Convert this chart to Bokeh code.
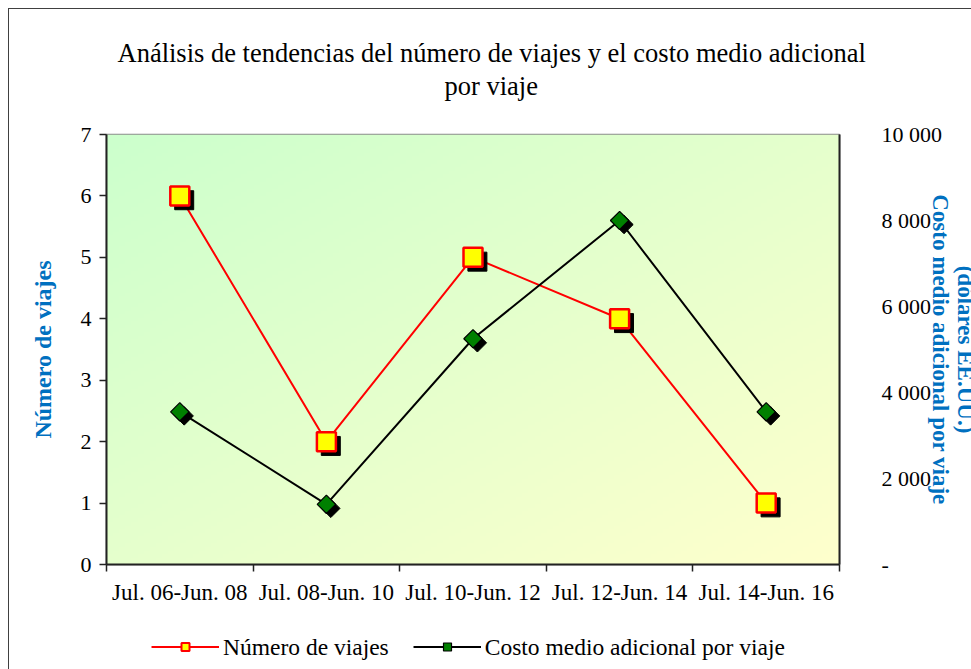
import numpy as np
from bokeh.plotting import figure
from bokeh.layouts import column
from bokeh.models import (Range1d, LinearAxis, FixedTicker, Legend, LegendItem,
                          ColumnDataSource, Title)
from bokeh.transform import dodge
from bokeh.embed import file_html
from bokeh.resources import INLINE

# ---- data ----
periods = ["Jul. 06-Jun. 08", "Jul. 08-Jun. 10", "Jul. 10-Jun. 12",
           "Jul. 12-Jun. 14", "Jul. 14-Jun. 16"]
num_viajes = [6, 2, 5, 4, 1]
costo_medio = [3550, 1400, 5250, 8000, 3550]
left_ticks = [0, 1, 2, 3, 4, 5, 6, 7]
right_ticks = [0, 2000, 4000, 6000, 8000, 10000]
right_tick_labels = ["-", "2 000", "4 000", "6 000", "8 000", "10 000"]

title_line1 = "Análisis de tendencias del número de viajes y el costo medio adicional"
title_line2 = "por viaje"
left_title = "Número de viajes"
right_title_line1 = "Costo medio adicional por viaje"
right_title_line2 = "(dólares EE.UU.)"
legend_labels = ["Número de viajes", "Costo medio adicional por viaje"]

FONT = "Liberation Serif"
BLUE = "#0070C0"
RED = "#FF0000"
YELLOW = "#FFFF00"
GREEN = "#008000"

xpos = [i + 0.5 for i in range(len(periods))]
src = ColumnDataSource(dict(x=xpos, n=num_viajes, c=costo_medio))

BORDER = {"border-left": "1px solid #404040"}
p = figure(frame_width=732, frame_height=429, output_backend="svg", toolbar_location=None,
           x_range=Range1d(0, len(periods)), y_range=Range1d(0, 7),
           min_border_left=97, min_border_right=20, min_border_top=125,
           min_border_bottom=60, title=None, margin=(8, 0, 0, 8),
           styles={"border-top": "1px solid #404040", **BORDER})
p.extra_y_ranges = {"cost": Range1d(0, 10000)}
p.xgrid.visible = False
p.ygrid.visible = False
p.outline_line_color = "#8c8c8c"
p.outline_line_width = 1.5
p.background_fill_color = "white"
p.border_fill_color = "white"

# gradient background (green top-left -> yellow bottom-right)
N = 120
u = np.linspace(0, 1, N)[None, :]
v = np.linspace(0, 1, N)[:, None]
t = (u + (1 - v)) / 2.0
c0 = np.array([204, 255, 204])
c1 = np.array([255, 255, 204])
img = np.empty((N, N), dtype=np.uint32)
view = img.view(dtype=np.uint8).reshape((N, N, 4))
for k in range(3):
    view[:, :, k] = (c0[k] + (c1[k] - c0[k]) * t).astype(np.uint8)
view[:, :, 3] = 255
p.image_rgba(image=[img], x=0, y=0, dw=len(periods), dh=7, level="image")

# titles: spacer (closest to frame), second line, first line
p.add_layout(Title(text=" ", text_font_size="1px", standoff=30), "above")
p.add_layout(Title(text=title_line2, align="left", offset=338, text_font=FONT,
                   text_font_size="26.5px", text_font_style="normal",
                   text_color="black", standoff=1), "above")
p.add_layout(Title(text=title_line1, align="left", offset=11, text_font=FONT,
                   text_font_size="26.5px", text_font_style="normal",
                   text_color="black", standoff=1), "above")

# x axis
xa = p.xaxis[0]
xa.ticker = FixedTicker(ticks=xpos, minor_ticks=list(range(len(periods) + 1)))
xa.major_label_overrides = {x: lab for x, lab in zip(xpos, periods)}
xa.major_tick_line_color = None
xa.minor_tick_in = 0
xa.minor_tick_out = 7
xa.minor_tick_line_color = "#222222"
xa.minor_tick_line_width = 1.5
xa.axis_line_color = "#222222"
xa.axis_line_width = 2
xa.major_label_text_font = FONT
xa.major_label_text_font_size = "23px"
xa.major_label_text_color = "black"
xa.major_label_standoff = 8

# left axis
ya = p.yaxis[0]
ya.ticker = FixedTicker(ticks=left_ticks)
ya.minor_tick_line_color = None
ya.major_tick_in = 0
ya.major_tick_out = 7
ya.major_tick_line_color = "#222222"
ya.major_tick_line_width = 1.5
ya.axis_line_color = "#222222"
ya.axis_line_width = 2
ya.major_label_text_font = FONT
ya.major_label_text_font_size = "22px"
ya.major_label_text_color = "black"
ya.major_label_standoff = 8
ya.axis_label = left_title
ya.axis_label_text_font = FONT
ya.axis_label_text_font_size = "24px"
ya.axis_label_text_font_style = "bold"
ya.axis_label_text_color = BLUE
ya.axis_label_standoff = 22

# right axis
ra = LinearAxis(y_range_name="cost", ticker=FixedTicker(ticks=right_ticks))
ra.major_label_overrides = {t_: l_ for t_, l_ in zip(right_ticks, right_tick_labels)}
ra.minor_tick_line_color = None
ra.major_tick_line_color = None
ra.axis_line_color = "#222222"
ra.axis_line_width = 2
ra.major_label_text_font = FONT
ra.major_label_text_font_size = "22px"
ra.major_label_text_color = "black"
ra.major_label_standoff = 36
ra.axis_label = right_title_line2 + "\n" + right_title_line1
ra.axis_label_text_font = FONT
ra.axis_label_text_font_size = "23px"
ra.axis_label_text_font_style = "bold"
ra.axis_label_text_color = BLUE
ra.axis_label_text_line_height = 1.0
ra.axis_label_standoff = -17
p.add_layout(ra, "right")

# series: number of trips (left axis)
p.line("x", "n", source=src, line_color=RED, line_width=2)
p.scatter(dodge("x", 0.03, range=p.x_range), dodge("n", -0.07, range=p.y_range),
          source=src, marker="square", size=19, fill_color="black", line_color="black")
p.scatter("x", "n", source=src, marker="square", size=19, fill_color=YELLOW,
          line_color=RED, line_width=2.5)

# series: cost (right axis)
p.line("x", "c", source=src, line_color="black", line_width=2, y_range_name="cost")
p.scatter(dodge("x", 0.03, range=p.x_range), dodge("c", -95), source=src,
          marker="square", angle=np.pi / 4, size=13, fill_color="black",
          line_color="black", y_range_name="cost")
p.scatter("x", "c", source=src, marker="square", angle=np.pi / 4, size=13,
          fill_color=GREEN, line_color="black", line_width=1.2, y_range_name="cost")

# legend strip below the chart (proxy renderers share the data, kept out of view)
p2 = figure(width=963, height=47, output_backend="svg", toolbar_location=None,
            x_range=Range1d(100, 101), y_range=Range1d(100, 101), min_border=0,
            margin=(0, 0, 0, 8), styles=BORDER)
p2.extra_y_ranges = {"cost": Range1d(1e6, 1e6 + 1)}
p2.axis.visible = False
p2.grid.visible = False
p2.outline_line_color = None
k1 = p2.line("x", "n", source=src, line_color=RED, line_width=2)
q1 = p2.scatter("x", "n", source=src, marker="square", size=16,
                fill_color=YELLOW, line_color=RED, line_width=2)
k2 = p2.line("x", "c", source=src, line_color="black", line_width=2, y_range_name="cost")
q2 = p2.scatter("x", "c", source=src, marker="square", angle=np.pi / 4, size=11,
                fill_color=GREEN, line_color="black", line_width=1.2,
                y_range_name="cost")
legend = Legend(items=[LegendItem(label=legend_labels[0], renderers=[k1, q1]),
                       LegendItem(label=legend_labels[1], renderers=[k2, q2])],
                orientation="horizontal", location="center",
                label_text_font=FONT, label_text_font_size="23.5px",
                label_text_color="black", border_line_color=None,
                background_fill_alpha=0, glyph_width=68, label_standoff=4,
                spacing=24, margin=0, padding=0)
p2.add_layout(legend, "center")

layout = column(p, p2, spacing=0)
open("out.html", "w").write(file_html(layout, INLINE))
